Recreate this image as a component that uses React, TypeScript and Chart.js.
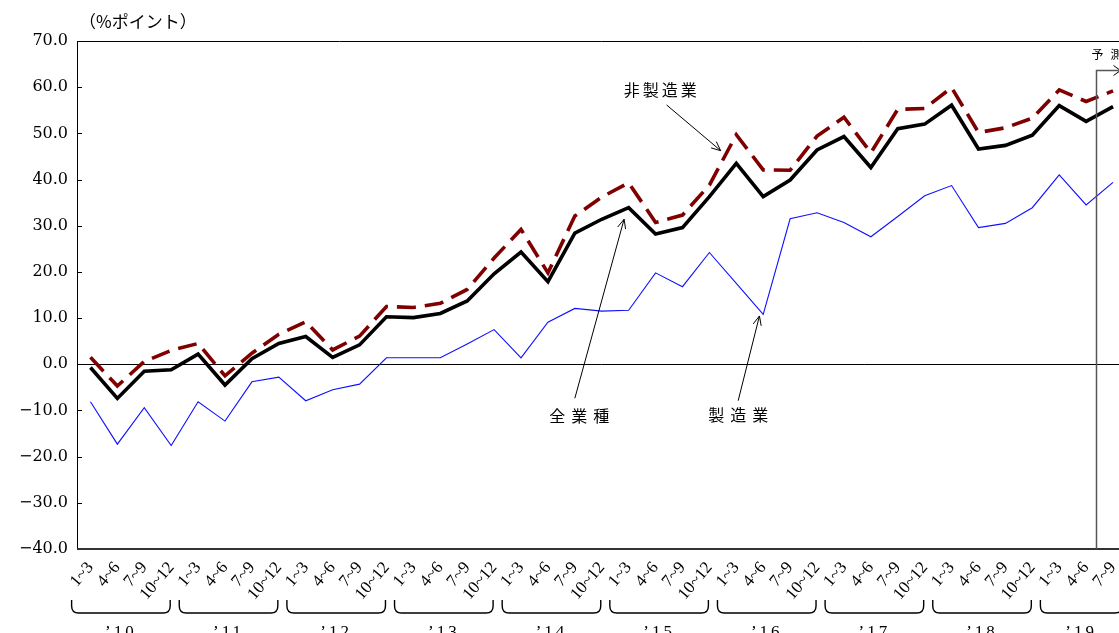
import React, { useEffect, useRef } from 'react';
import { Chart, registerables } from 'chart.js';

Chart.register(...registerables);

// ---- data ----
const QUARTERS = ['1~3', '4~6', '7~9', '10~12'];
const YEARS = ['’10', '’11', '’12', '’13', '’14', '’15', '’16', '’17', '’18', '’19'];
const QUARTERS_PER_YEAR = [4, 4, 4, 4, 4, 4, 4, 4, 4, 3];

const ALL_INDUSTRIES = [
  -0.7, -7.4, -1.5, -1.2, 2.2, -4.5, 1.2, 4.5, 6.0, 1.5,
  4.2, 10.3, 10.1, 11.0, 13.7, 19.6, 24.3, 17.9, 28.4, 31.4,
  33.9, 28.2, 29.6, 36.3, 43.5, 36.3, 39.9, 46.4, 49.3, 42.6,
  51.0, 52.0, 56.1, 46.6, 47.4, 49.6, 56.0, 52.6, 55.8,
];
const NON_MANUFACTURING = [
  1.5, -4.7, 0.6, 3.0, 4.5, -2.5, 2.4, 6.5, 9.2, 3.1,
  6.1, 12.5, 12.3, 13.2, 16.2, 23.0, 29.2, 19.8, 32.1, 36.2,
  39.3, 30.7, 32.3, 38.8, 49.7, 42.1, 42.0, 49.4, 53.5, 45.8,
  55.2, 55.4, 59.9, 50.2, 51.2, 53.3, 59.4, 56.9, 59.2,
];
const MANUFACTURING = [
  -8.1, -17.3, -9.4, -17.6, -8.1, -12.3, -3.8, -2.8, -7.9, -5.5,
  -4.3, 1.4, 1.4, 1.4, 4.4, 7.5, 1.4, 9.1, 12.1, 11.5,
  11.7, 19.8, 16.8, 24.2, 17.5, 10.8, 31.5, 32.8, 30.7, 27.6,
  32.0, 36.5, 38.7, 29.6, 30.5, 33.9, 41.0, 34.5, 39.4,
];

const Y_MIN = -40;
const Y_MAX = 70;
const Y_STEP = 10;
const UNIT_LABEL = '（%ポイント）';
const FORECAST_LABEL = '予測';
const FORECAST_AT = 37.37; // category position where the forecast starts
const FORECAST_LEVEL = 63.7;

const SERIES_NAMES = ['非製造業', '全業種', '製造業'];
// annotation: [label, textIdx, textVal, tailIdx, tailVal, tipIdx, tipVal, letterSpacing]
const ANNOTATIONS: [string, number, number, number, number, number, number, number][] = [
  ['非製造業', 21.17, 59.4, 21.41, 56.15, 23.42, 46.25, 3],
  ['全業種', 18.16, -11.2, 18.0, -7.36, 19.83, 31.4, 6],
  ['製造業', 24.07, -10.9, 24.07, -7.88, 24.86, 10.46, 6],
];

const LABELS: string[] = [];
QUARTERS_PER_YEAR.forEach((n) => {
  for (let i = 0; i < n; i++) LABELS.push(QUARTERS[i]);
});

const fmtY = (v: number) => (v < 0 ? '−' + Math.abs(v).toFixed(1) : v.toFixed(1));

const JP = '"Noto Sans CJK JP", "Noto Sans", sans-serif';
const SERIF = '"Liberation Serif", "DejaVu Serif", serif';

function arrow(ctx: CanvasRenderingContext2D, x1: number, y1: number, x2: number, y2: number) {
  ctx.beginPath();
  ctx.moveTo(x1, y1);
  ctx.lineTo(x2, y2);
  ctx.stroke();
  const ang = Math.atan2(y2 - y1, x2 - x1);
  const L = 10;
  const w = 0.42;
  ctx.beginPath();
  ctx.moveTo(x2 - L * Math.cos(ang - w), y2 - L * Math.sin(ang - w));
  ctx.lineTo(x2, y2);
  ctx.lineTo(x2 - L * Math.cos(ang + w), y2 - L * Math.sin(ang + w));
  ctx.stroke();
}

const overlay = {
  id: 'overlay',
  beforeDatasetsDraw(chart: any) {
    const { ctx, chartArea: a, scales } = chart;
    const y = scales.y;
    ctx.save();
    ctx.strokeStyle = '#000';
    ctx.lineWidth = 1;
    const y0 = Math.round(y.getPixelForValue(0)) + 0.5;
    ctx.beginPath();
    ctx.moveTo(a.left, y0);
    ctx.lineTo(a.right, y0);
    ctx.stroke();
    for (let v = Y_MIN; v <= Y_MAX; v += Y_STEP) {
      const py = Math.round(y.getPixelForValue(v)) + 0.5;
      ctx.beginPath();
      ctx.moveTo(a.left, py);
      ctx.lineTo(a.left + 5, py);
      ctx.stroke();
    }
    ctx.restore();
  },
  afterDraw(chart: any) {
    const { ctx, chartArea: a, scales } = chart;
    const x = scales.x;
    const y = scales.y;
    ctx.save();
    // frame
    ctx.strokeStyle = '#000';
    ctx.lineWidth = 1;
    ctx.beginPath();
    ctx.moveTo(a.left + 0.5, a.bottom);
    ctx.lineTo(a.left + 0.5, a.top + 0.5);
    ctx.lineTo(a.right - 0.5, a.top + 0.5);
    ctx.lineTo(a.right - 0.5, a.bottom);
    ctx.stroke();
    ctx.strokeStyle = '#333';
    ctx.lineWidth = 2;
    ctx.beginPath();
    ctx.moveTo(a.left, a.bottom);
    ctx.lineTo(a.right, a.bottom);
    ctx.stroke();

    // forecast marker
    const fx = Math.round(x.getPixelForValue(FORECAST_AT)) + 0.5;
    const fy = Math.round(y.getPixelForValue(FORECAST_LEVEL)) + 0.5;
    ctx.strokeStyle = '#555';
    ctx.lineWidth = 1.5;
    ctx.beginPath();
    ctx.moveTo(fx, a.bottom);
    ctx.lineTo(fx, fy);
    ctx.lineTo(a.right - 6, fy);
    ctx.stroke();
    ctx.lineWidth = 1;
    ctx.strokeStyle = '#000';
    ctx.beginPath();
    ctx.moveTo(a.right - 13, fy - 5);
    ctx.lineTo(a.right - 6, fy);
    ctx.lineTo(a.right - 13, fy + 5);
    ctx.stroke();
    ctx.fillStyle = '#000';
    ctx.font = `12px ${JP}`;
    ctx.textAlign = 'left';
    ctx.textBaseline = 'middle';
    (ctx as any).letterSpacing = '7px';
    ctx.fillText(FORECAST_LABEL, fx - 5, fy - 16);
    (ctx as any).letterSpacing = '0px';

    // year brackets and labels
    let idx = 0;
    const spacing = x.getPixelForValue(1) - x.getPixelForValue(0);
    ctx.strokeStyle = '#000';
    ctx.lineWidth = 1.4;
    QUARTERS_PER_YEAR.forEach((n, k) => {
      const f = idx;
      const l = idx + n - 1;
      idx += n;
      const left = x.getPixelForValue(f) - spacing * 0.7;
      const right = n === 4 ? x.getPixelForValue(l) - 1 : x.getPixelForValue(l) + spacing * 0.33;
      const top = a.bottom + 51;
      const bot = a.bottom + 64;
      const r = 7;
      ctx.beginPath();
      ctx.moveTo(left, top);
      ctx.lineTo(left, bot - r);
      ctx.quadraticCurveTo(left, bot, left + r, bot);
      ctx.lineTo(right - r, bot);
      ctx.quadraticCurveTo(right, bot, right, bot - r);
      ctx.lineTo(right, top);
      ctx.stroke();
      ctx.font = `17px ${SERIF}`;
      ctx.textAlign = 'center';
      ctx.textBaseline = 'alphabetic';
      (ctx as any).letterSpacing = '3px';
      ctx.fillText(YEARS[k], (left + right) / 2, a.bottom + 88);
      (ctx as any).letterSpacing = '0px';
    });

    // unit label
    ctx.font = `17px ${JP}`;
    ctx.textAlign = 'left';
    ctx.textBaseline = 'middle';
    ctx.fillText(UNIT_LABEL, a.left + 2, a.top - 19);

    // annotations
    ctx.strokeStyle = '#000';
    ctx.lineWidth = 1;
    ANNOTATIONS.forEach(([label, ti, tv, ai, av, bi, bv, sp]) => {
      ctx.font = `16px ${JP}`;
      ctx.textAlign = 'center';
      ctx.textBaseline = 'middle';
      (ctx as any).letterSpacing = `${sp}px`;
      ctx.fillText(label, x.getPixelForValue(ti) + sp / 2, y.getPixelForValue(tv));
      (ctx as any).letterSpacing = '0px';
      arrow(ctx, x.getPixelForValue(ai), y.getPixelForValue(av), x.getPixelForValue(bi), y.getPixelForValue(bv));
    });
    ctx.restore();
  },
};

export default function App() {
  const ref = useRef<HTMLCanvasElement | null>(null);
  useEffect(() => {
    if (!ref.current) return;
    const chart = new Chart(ref.current, {
      type: 'line',
      data: {
        labels: LABELS,
        datasets: [
          {
            label: SERIES_NAMES[1],
            data: ALL_INDUSTRIES,
            borderColor: '#000000',
            borderWidth: 3.6,
            pointRadius: 0,
            tension: 0,
            borderJoinStyle: 'miter',
          },
          {
            label: SERIES_NAMES[0],
            data: NON_MANUFACTURING,
            borderColor: '#800000',
            borderWidth: 3.6,
            borderDash: [19, 9],
            pointRadius: 0,
            tension: 0,
            borderJoinStyle: 'miter',
          },
          {
            label: SERIES_NAMES[2],
            data: MANUFACTURING,
            borderColor: '#1010ff',
            borderWidth: 1.1,
            pointRadius: 0,
            tension: 0,
          },
        ],
      },
      options: {
        responsive: false,
        animation: false,
        layout: { padding: { top: 41, right: 13.5, left: 0, bottom: 0 } },
        plugins: { legend: { display: false }, tooltip: { enabled: false } },
        scales: {
          x: {
            type: 'category',
            offset: true,
            grid: { display: false, drawTicks: false },
            border: { display: false },
            ticks: {
              autoSkip: false,
              minRotation: 50,
              maxRotation: 50,
              padding: 9,
              color: '#000',
              font: { family: SERIF, size: 17 },
            },
            afterFit: (s: any) => {
              s.height = 111;
            },
          },
          y: {
            min: Y_MIN,
            max: Y_MAX,
            grid: { display: false, drawTicks: false },
            border: { display: false },
            ticks: {
              stepSize: Y_STEP,
              padding: 9,
              color: '#000',
              font: { family: '"DejaVu Serif", serif', size: 16 },
              callback: (v: any) => fmtY(Number(v)),
            },
            afterFit: (s: any) => {
              s.width = 77;
            },
          },
        },
      },
      plugins: [overlay],
    });
    return () => chart.destroy();
  }, []);
  return (
    <div
      style={{
        position: 'fixed',
        left: 0,
        top: 0,
        width: 1119,
        height: 633,
        overflow: 'hidden',
        background: '#fff',
      }}
    >
      <canvas ref={ref} width={1140} height={660} style={{ width: 1140, height: 660, display: 'block' }} />
    </div>
  );
}
